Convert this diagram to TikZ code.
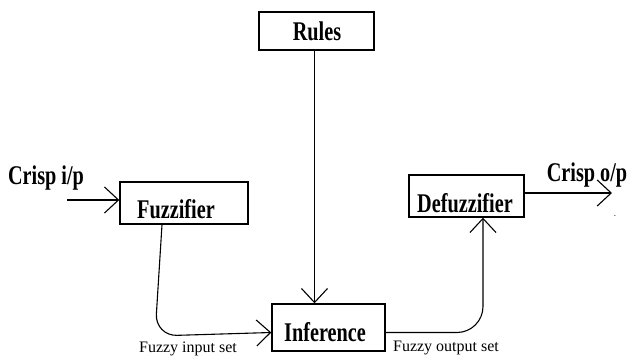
\documentclass[tikz,border=0pt]{standalone}
\usepackage{fontspec}
\setmainfont{Liberation Serif}
\newfontfamily\blkfont[FakeStretch=0.75]{Liberation Serif}
\usepackage{tikz}
\usetikzlibrary{arrows.meta}

\begin{document}
\begin{tikzpicture}[x=1pt, y=-1pt, >={Straight Barb[length=14pt, width=26pt]},
  box/.style={draw, line width=1.4pt, inner sep=0pt},
  btxt/.style={font=\blkfont\bfseries\fontsize{27}{32}\selectfont, inner sep=0pt},
  stxt/.style={font=\fontsize{16}{19}\selectfont, inner sep=0pt},
  arr/.style={->, line width=1.1pt}]
  \useasboundingbox (0,0) rectangle (627,361);
  % blocks
  \node[box, minimum width=115pt, minimum height=38pt] (rules) at (316.5,31) {};
  \node[btxt] (rulestxt) at (317,31) {Rules};
  \node[box, minimum width=128pt, minimum height=42pt] (fuzz) at (184,203) {};
  \node[btxt] (fuzztxt) at (176,209) {Fuzzifier};
  \node[box, minimum width=115pt, minimum height=42pt] (defuzz) at (466.5,196) {};
  \node[btxt] (defuzztxt) at (465,203) {Defuzzifier};
  \node[box, minimum width=113pt, minimum height=47pt] (inf) at (328.5,327.5) {};
  \node[btxt] (inftxt) at (325,332) {Inference};
  % texts
  \node[btxt] (cin) at (46,178) {Crisp i/p};
  \node[btxt] (cout) at (587,175) {Crisp o/p};
  \node[stxt] (fin) at (188,349) {Fuzzy input set};
  \node[stxt] (fout) at (446,348) {Fuzzy output set};
  \node[inner sep=0pt, font=\small] (dot) at (615,216) {.};
  \coordinate (inpt) at (67,200);
  \coordinate (outpt) at (612,193);
  % connectors
  \draw[arr] (inpt) -- (inpt -| fuzz.west);
  \draw[arr] ([xshift=-2pt]rules.south) -- ([xshift=-2pt]rules.south |- inf.north);
  \draw[arr, rounded corners=22pt] ([xshift=-22pt]fuzz.south) -- (155,336) -- ([yshift=-5pt]inf.west);
  \draw[arr, rounded corners=26pt] ([yshift=-5pt]inf.east) -- (483,332.5) -- ([xshift=16.5pt]defuzz.south);
  \draw[arr] ([yshift=3pt]defuzz.east) -- (outpt);
\end{tikzpicture}
\end{document}
